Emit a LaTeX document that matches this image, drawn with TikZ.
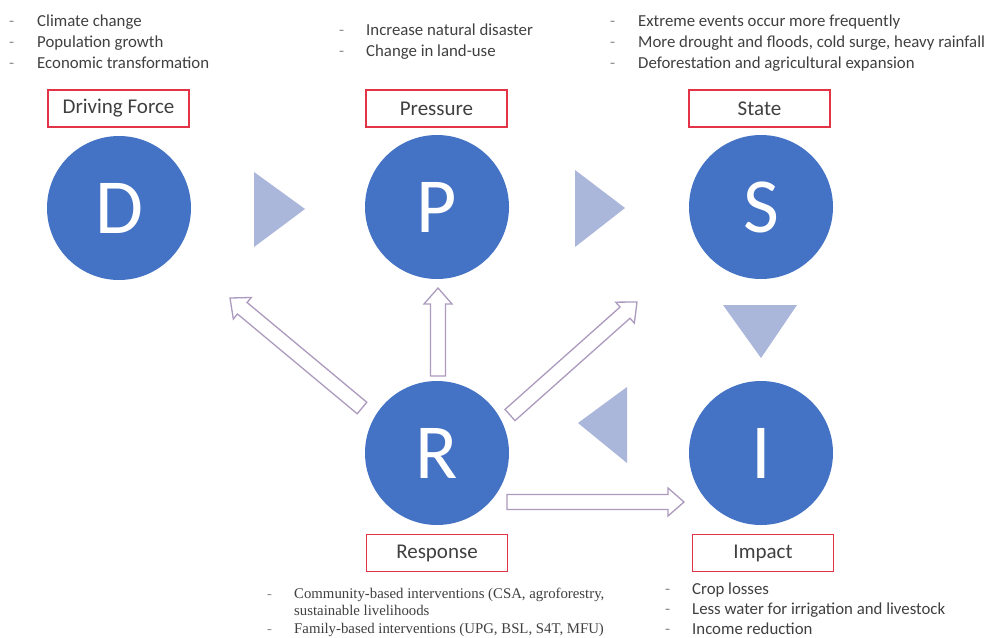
\documentclass[tikz,border=0pt]{standalone}
\usepackage{fontspec}
\setmainfont{Carlito}
\newfontfamily\timesfam{Liberation Serif}
\usetikzlibrary{calc}
\definecolor{circblue}{RGB}{68,114,196}
\definecolor{triblue}{RGB}{170,182,218}
\definecolor{boxred}{RGB}{226,52,70}
\definecolor{arrowline}{RGB}{172,155,190}
\definecolor{txtgray}{RGB}{64,64,64}
\definecolor{dashgray}{RGB}{140,140,140}
\newcommand\hollowarrow[2]{%
  \coordinate (hh) at ($(#2)!16pt!(#1)$);
  \draw[openarr] ($(#1)!7.5pt!90:(#2)$) -- ($(hh)!7.5pt!-90:(#1)$) -- ($(hh)!14pt!-90:(#1)$) -- (#2)
     -- ($(hh)!14pt!90:(#1)$) -- ($(hh)!7.5pt!90:(#1)$) -- ($(#1)!7.5pt!-90:(#2)$) -- cycle;}
\begin{document}
\begin{tikzpicture}[x=1pt,y=-1pt,
  circ/.style={circle, fill=circblue, minimum size=144pt, inner sep=0pt, text=white,
               font=\fontsize{78}{78}\selectfont},
  labelbox/.style={draw=boxred, line width=1.8pt, fill=white, minimum width=141pt,
               minimum height=37pt, inner sep=0pt, text=txtgray, font=\fontsize{21}{21}\selectfont},
  tri/.style={fill=triblue},
  openarr/.style={draw=arrowline, line width=1.3pt, fill=white, line join=miter},
  item/.style={anchor=base west, inner sep=0pt, text=txtgray, font=\fontsize{16.8}{21}\selectfont},
  dashmark/.style={anchor=base west, inner sep=0pt, text=dashgray, font=\fontsize{16.5}{21}\selectfont},
  titem/.style={anchor=base west, inner sep=0pt, text=txtgray, font=\timesfam\fontsize{14.8}{17}\selectfont},
  tdash/.style={anchor=base west, inner sep=0pt, text=dashgray, font=\timesfam\fontsize{14.5}{17}\selectfont}]
\useasboundingbox[fill=white] (0,0) rectangle (998,637);

% circles
\node[circ] (D) at (119,208) {D};
\node[circ] (P) at (437,207) {P};
\node[circ] (S) at (761,207) {S};
\node[circ] (R) at (437,453) {R};
\node[circ] (I) at (761,453) {I};

% label boxes
\node[labelbox] (DF) at (118.5,108.5) {Driving Force};
\node[labelbox] (PR) at (436.5,108.5) {Pressure};
\node[labelbox] (ST) at (759.5,108.5) {State};
\node[labelbox] (RE) at (437,553) {Response};
\node[labelbox] (IM) at (763,553) {Impact};

% filled triangles
\fill[tri] (254,172) -- (305,209) -- (254,247) -- cycle;
\fill[tri] (575,170) -- (625,208) -- (575,247) -- cycle;
\fill[tri] (723,305) -- (797,305) -- (761,358) -- cycle;
\fill[tri] (627,387) -- (578,423) -- (627,463) -- cycle;

% hollow arrows from R
\coordinate (ulT) at (362,408); \coordinate (ulH) at (230,298);
\coordinate (upT) at (438,376); \coordinate (upH) at (438,288);
\coordinate (urT) at (510,415); \coordinate (urH) at (637,302);
\coordinate (rtT) at (507,502); \coordinate (rtH) at (684,502);
\hollowarrow{ulT}{ulH}
\hollowarrow{upT}{upH}
\hollowarrow{urT}{urH}
\hollowarrow{rtT}{rtH}

% Driving force list
\node[dashmark] (dd1) at (9,26) {-};
\node[dashmark] (dd2) at (9,47) {-};
\node[dashmark] (dd3) at (9,68) {-};
\node[item] (dt1) at (37,26) {Climate change};
\node[item] (dt2) at (37,47) {Population growth};
\node[item] (dt3) at (37,68) {Economic transformation};

% Pressure list
\node[dashmark] (pd1) at (339,35) {-};
\node[dashmark] (pd2) at (339,56) {-};
\node[item] (pt1) at (366,35) {Increase natural disaster};
\node[item] (pt2) at (366,56) {Change in land-use};

% State list
\node[dashmark] (sd1) at (610,26) {-};
\node[dashmark] (sd2) at (610,47) {-};
\node[dashmark] (sd3) at (610,68) {-};
\node[item] (st1) at (638,26) {Extreme events occur more frequently};
\node[item] (st2) at (638,47) {More drought and floods, cold surge, heavy rainfall};
\node[item] (st3) at (638,68) {Deforestation and agricultural expansion};

% Impact list
\node[dashmark] (id1) at (665,594) {-};
\node[dashmark] (id2) at (665,614) {-};
\node[dashmark] (id3) at (665,634) {-};
\node[item] (it1) at (692,594) {Crop losses};
\node[item] (it2) at (692,614) {Less water for irrigation and livestock};
\node[item] (it3) at (692,634) {Income reduction};

% Response list
\node[tdash] (rd1) at (267,598) {-};
\node[tdash] (rd3) at (267,633) {-};
\node[titem] (rt1) at (294,598) {Community-based interventions (CSA, agroforestry,};
\node[titem] (rt2) at (294,615) {sustainable livelihoods};
\node[titem] (rt3) at (294,633) {Family-based interventions (UPG, BSL, S4T, MFU)};
\end{tikzpicture}
\end{document}
